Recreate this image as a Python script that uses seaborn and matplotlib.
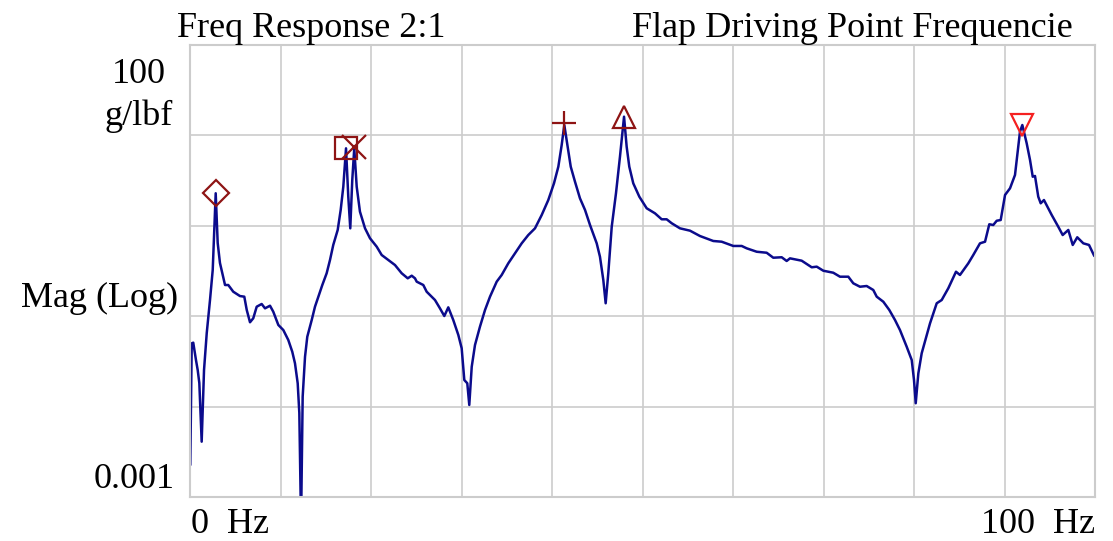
import numpy as np
import pandas as pd
import matplotlib
matplotlib.use('Agg')
import matplotlib.pyplot as plt
import seaborn as sns

# frequency response (Hz, log10 of magnitude in g/lbf)
freq_hz = [0.03, 0.19, 0.36, 0.66, 0.85, 1.03, 1.29, 1.55, 1.85, 2.21, 2.51, 2.84, 3.06, 3.31,
           3.57, 3.87, 4.23, 4.78, 5.52, 6.00, 6.27, 6.63, 6.99, 7.37, 7.92, 8.29, 8.84, 9.20,
           9.76, 10.31, 10.86, 11.30, 11.60, 11.90, 12.08, 12.27, 12.45, 12.71, 12.96, 13.45,
           13.81, 14.18, 14.62, 15.10, 15.47, 15.83, 16.32, 16.65, 16.94, 17.24, 17.49, 17.71,
           17.93, 18.15, 18.42, 18.78, 19.34, 19.89, 20.63, 21.18, 21.91, 22.65, 23.39, 24.06,
           24.50, 24.86, 25.05, 25.78, 26.15, 27.07, 27.62, 28.10, 28.54, 29.09, 29.65, 30.02,
           30.31, 30.64, 30.86, 31.13, 31.49, 32.04, 32.60, 33.15, 33.89, 34.44, 35.17, 35.91,
           36.65, 37.38, 38.12, 38.86, 39.59, 40.22, 40.70, 41.07, 41.36, 41.73, 42.07, 42.54,
           43.09, 43.65, 44.20, 44.94, 45.30, 45.67, 45.93, 46.22, 46.60, 47.07, 47.51, 47.96,
           48.25, 48.54, 48.98, 49.65, 50.46, 51.38, 52.12, 52.67, 53.23, 54.14, 55.25, 56.35,
           57.82, 58.75, 60.03, 60.96, 61.51, 62.62, 63.72, 64.45, 65.38, 65.93, 66.30, 67.59,
           68.70, 69.25, 69.98, 71.08, 71.82, 72.74, 73.29, 74.03, 74.77, 75.50, 75.88, 76.61,
           77.27, 77.90, 78.45, 79.19, 79.75, 80.00, 80.19, 80.48, 80.85, 81.77, 82.51, 83.06,
           83.79, 84.64, 85.08, 86.00, 86.55, 87.29, 87.85, 88.32, 88.76, 89.14, 89.58, 90.06,
           90.61, 91.16, 91.41, 91.71, 91.97, 92.45, 92.82, 93.12, 93.37, 93.73, 94.00, 94.36,
           95.22, 95.94, 96.43, 97.05, 97.54, 98.04, 98.71, 99.34, 99.92]
mag_exp = [-2.646, -1.300, -1.293, -1.485, -1.595, -1.739, -2.388, -1.595, -1.186, -0.821, -0.489,
           0.360, -0.190, -0.411, -0.522, -0.655, -0.655, -0.729, -0.777, -0.784, -0.931, -1.067,
           -1.023, -0.895, -0.865, -0.913, -0.884, -0.950, -1.097, -1.153, -1.263, -1.393, -1.521,
           -1.742, -2.071, -3.300, -1.890, -1.448, -1.227, -1.042, -0.895, -0.784, -0.655, -0.525,
           -0.378, -0.212, -0.046, 0.175, 0.433, 0.857, 0.322, -0.028, 0.507, 0.857, 0.433, 0.156,
           -0.028, -0.138, -0.231, -0.323, -0.378, -0.434, -0.525, -0.581, -0.552, -0.581, -0.618,
           -0.655, -0.729, -0.821, -0.913, -0.998, -0.902, -1.042, -1.208, -1.355, -1.706, -1.742,
           -1.982, -1.559, -1.319, -1.116, -0.931, -0.784, -0.618, -0.544, -0.415, -0.304, -0.194,
           -0.102, -0.028, 0.119, 0.285, 0.470, 0.654, 0.894, 1.115, 0.875, 0.654, 0.488, 0.304,
           0.175, 0.009, -0.194, -0.342, -0.600, -0.857, -0.525, -0.010, 0.360, 0.764, 1.207,
           0.875, 0.654, 0.470, 0.322, 0.194, 0.138, 0.072, 0.072, 0.028, -0.028, -0.054, -0.113,
           -0.168, -0.176, -0.223, -0.223, -0.249, -0.287, -0.298, -0.353, -0.348, -0.389, -0.360,
           -0.386, -0.459, -0.452, -0.497, -0.519, -0.563, -0.563, -0.636, -0.674, -0.666, -0.710,
           -0.784, -0.840, -0.931, -1.042, -1.153, -1.337, -1.485, -1.706, -1.963, -1.632, -1.410,
           -1.079, -0.857, -0.821, -0.691, -0.508, -0.544, -0.415, -0.323, -0.194, -0.176, 0.017,
           0.009, 0.056, 0.064, 0.341, 0.415, 0.562, 0.783, 1.041, 1.115, 0.913, 0.728, 0.543,
           0.551, 0.322, 0.249, 0.285, 0.119, -0.010, -0.102, -0.046, -0.212, -0.127, -0.194,
           -0.212, -0.334]

# peak markers
peak_hz = [2.84, 17.24, 18.15, 41.36, 47.96, 91.97]
peak_exp = [0.360, 0.860, 0.870, 1.135, 1.205, 1.115]
peak_marker = ['D', 's', 'x', '+', '^', 'v']
peak_color = ['#8e1414', '#8e1414', '#8e1414', '#8e1414', '#8e1414', '#f52020']
peak_size = [13.5, 16.5, 17.5, 17.5, 16.5, 16.5]

df = pd.DataFrame({'hz': freq_hz, 'mag': np.power(10.0, mag_exp)})

W, H = 1113, 541
sns.set_style('white')
plt.rcParams['font.family'] = ['Liberation Serif', 'DejaVu Serif']

fig = plt.figure(figsize=(W / 100, H / 100), dpi=100)
ax = fig.add_axes([190 / W, 1 - 497 / H, (1095 - 190) / W, (497 - 45) / H])

sns.lineplot(data=df, x='hz', y='mag', sort=False, estimator=None, color='#0b0b8c',
             linewidth=1.8, ax=ax)

for x, e, m, c, s in zip(peak_hz, peak_exp, peak_marker, peak_color, peak_size):
    ax.plot([x], [10.0 ** e], marker=m, color=c, mfc='none', mec=c, ms=s, mew=1.6,
            linestyle='none', clip_on=False, zorder=5)

ax.set_yscale('log')
ax.set_xlim(0, 100)
ax.set_ylim(1e-3, 100)
ax.set_xticks(range(0, 101, 10))
ax.set_yticks([1e-3, 1e-2, 1e-1, 1, 10, 100])
ax.minorticks_off()
ax.tick_params(length=0, labelbottom=False, labelleft=False)
ax.grid(True, color='#cccccc', linewidth=1.2)
ax.set_xlabel('')
ax.set_ylabel('')
for sp in ax.spines.values():
    sp.set_color('#cccccc')
    sp.set_linewidth(1.5)


def label(px, py, txt, ha):
    fig.text(px / W, 1 - py / H, txt, ha=ha, va='baseline', fontsize=26, color='black')


label(177, 37, 'Freq Response 2:1', 'left')
label(632, 37, 'Flap Driving Point Frequencie', 'left')
label(166, 83, '100', 'right')
label(173, 125, 'g/lbf', 'right')
label(178, 307, 'Mag (Log)', 'right')
label(175, 488, '0.001', 'right')
label(191, 533, '0  Hz', 'left')
label(1095, 533, '100  Hz', 'right')

fig.savefig('out.png', dpi=100)
